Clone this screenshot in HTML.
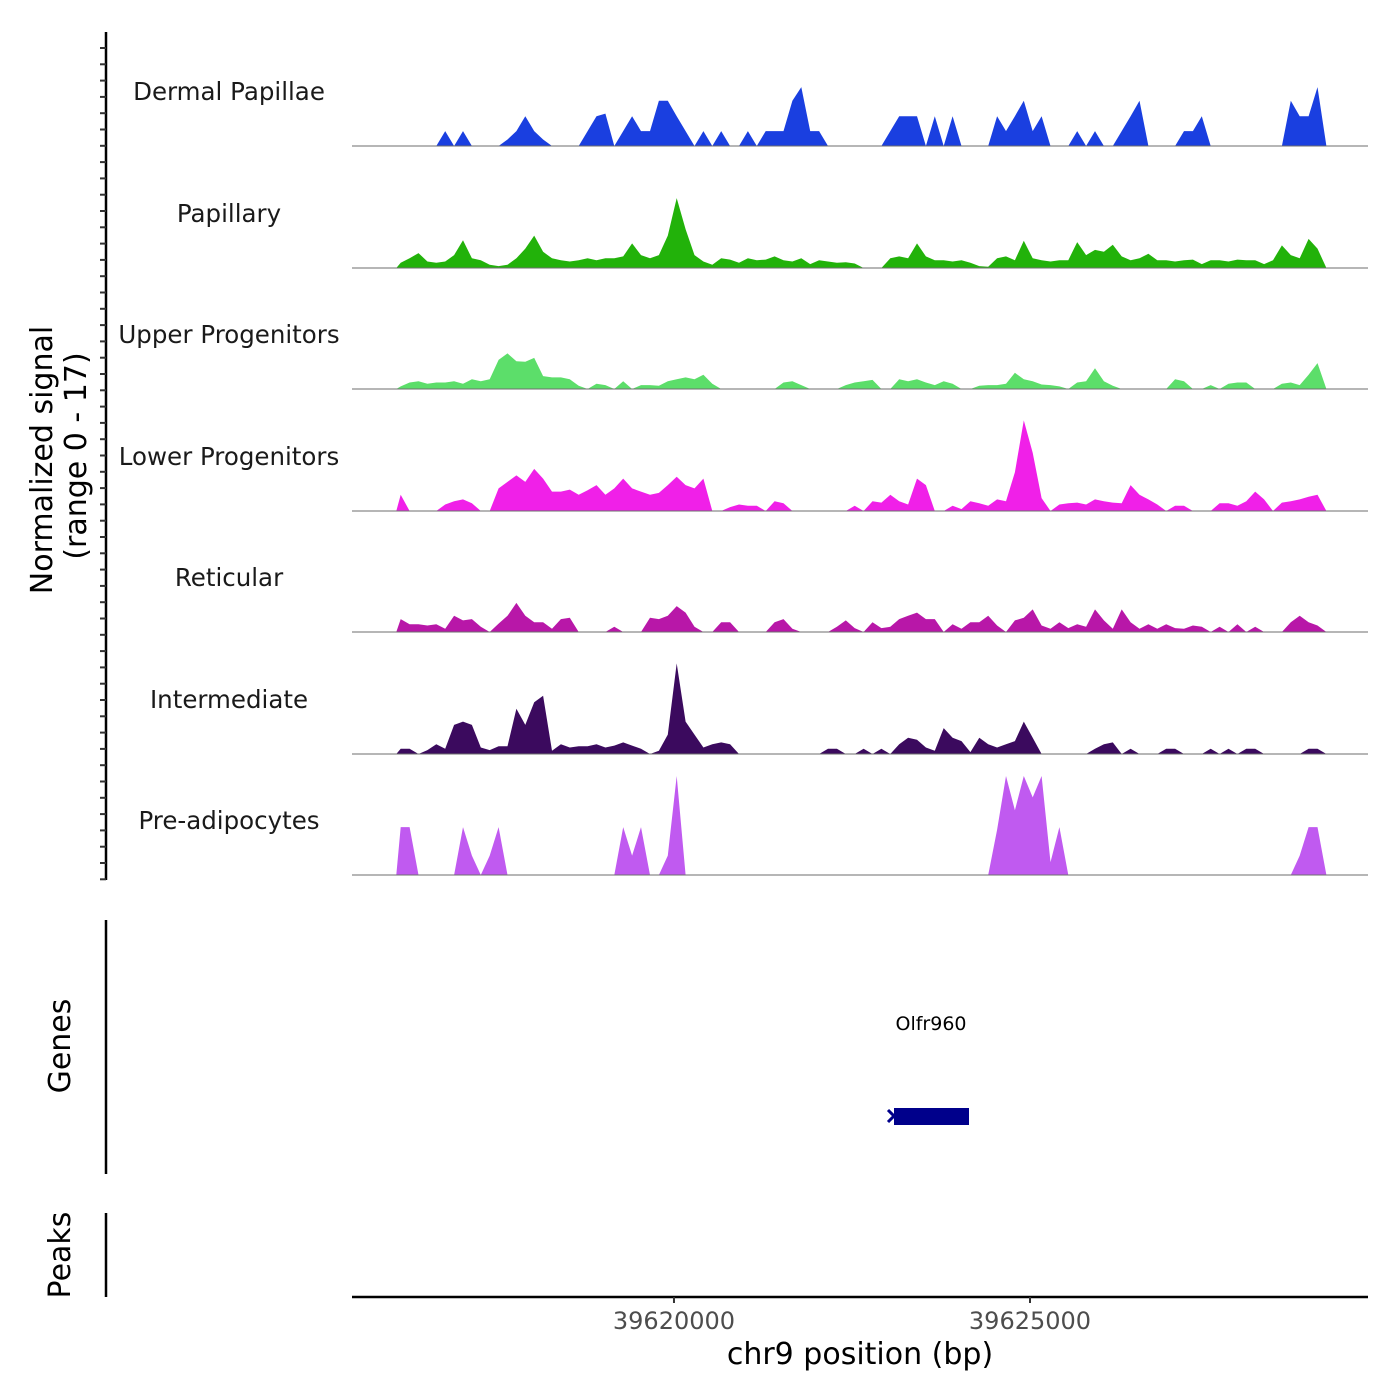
<!DOCTYPE html>
<html><head><meta charset="utf-8"><style>
html,body{margin:0;padding:0;background:#fff;}
svg{display:block;font-family:"DejaVu Sans","Liberation Sans",sans-serif;}
</style></head><body>
<svg id="chart" width="1400" height="1400" viewBox="0 0 1400 1400" xmlns="http://www.w3.org/2000/svg"></svg>
<script>
const trackNames = ["Dermal Papillae","Papillary","Upper Progenitors","Lower Progenitors","Reticular","Intermediate","Pre-adipocytes"];
const trackColors = ["#1a3fe0","#22b20a","#5cde6a","#f020e8","#b817a8","#3b0a5e","#c05af0"];
const binStart = 39616100;
const binSize = 125;
const xTicks = [39620000, 39625000];
const xTickLabels = ["39620000","39625000"];
const dermal = [0,0,0,0,0,2.3,0,2.3,0,0,0,0,1,2.3,4.6,2.3,1,0,0,0,0,2.3,4.6,5,0,2.3,4.6,2.3,2.3,7,7,4.6,2.3,0,2.3,0,2.3,0,0,2.3,0,2.3,2.3,2.3,7,9.1,2.3,2.3,0,0,0,0,0,0,0,2.3,4.6,4.6,4.6,0,4.6,0,4.6,0,0,0,0,4.6,2.3,4.6,7,2.3,4.6,0,0,0,2.3,0,2.3,0,0,2.3,4.6,7,0,0,0,0,2.3,2.3,4.6,0,0,0,0,0,0,0,0,0,7,4.6,4.6,9.1,0];
const papillary = [0.8,1.5,2.3,1,0.8,1,2,4.3,1.5,1.2,0.5,0.3,0.5,1.5,3,5,2.5,1.5,1.2,1,1.2,1.5,1.2,1.5,1.5,1.8,3.8,2,1.5,2,5,10.8,6,2,1,0.5,1.5,1.3,0.8,1.5,1.2,1.3,1.8,1.2,1,1.5,0.6,1.2,1,0.8,0.9,0.7,0,0,0,1.5,1.8,1.5,3.8,1.8,1.2,1.2,1,1.2,0.8,0.3,0.2,1.5,1.8,1.2,4.2,1.5,1.2,1,1.2,1.2,4,2,2.8,2.5,3.6,1.8,1.2,1.5,2.2,1.2,1.2,1,1.2,1.3,0.6,1.2,1.2,1,1.3,1.2,1.2,0.6,1.2,3.5,2,1.5,4.5,3,0];
const upper = [0.4,1,1.2,0.8,1,1,1.2,0.8,1.5,1.2,1.5,4.5,5.5,4.3,4.2,4.8,2,1.8,1.8,1.5,0.5,0,0.8,0.6,0,1.2,0,0.6,0.6,0.5,1.2,1.5,1.8,1.5,2.2,0.8,0,0,0,0,0,0,0,1,1.2,0.6,0,0,0,0,0.6,1,1.2,1.4,0,0,1.5,1.2,1.5,1,0.6,1.2,0.8,0,0,0.5,0.6,0.6,0.8,2.5,1.5,1.2,0.7,0.6,0.4,0,1,1.2,3.2,1.2,0.5,0,0,0,0,0,0,1.5,1.2,0,0,0.6,0,0.8,1,1,0,0,0,0.8,1,0.6,2.2,4,0];
const lower = [2.5,0,0,0,0,1,1.5,1.8,1.2,0,0,3.5,4.5,5.5,4.5,6.5,5,3,3,3.3,2.5,3.2,4,2.5,3.5,5,3.5,3,2.5,2.8,4,5.3,4,3.5,5,0,0,0.6,1,0.8,0.8,0,1.5,1.2,0,0,0,0,0,0,0,0.8,0,1.5,1.3,2.5,1.5,1,5,4,0,0,0.8,0.3,1.5,1.2,0.8,1.8,1.5,6,14,9,2,0,1,1.2,1.3,1,1.8,1.5,1.3,1.2,4,2.5,1.8,1,0,0.8,0.8,0,0,0,1.2,1.2,0.8,1.5,3,1.8,0,1.3,1.5,1.8,2.2,2.5,0];
const reticular = [2,1.2,1.2,1,1.2,0.5,2.5,1.8,2,0.8,0,1.3,2.5,4.5,2.5,1.5,1.5,0.5,2,2.2,0,0,0,0,0.8,0,0,0,2.2,2,2.5,4,3,0.8,0,0,1.5,1.5,0,0,0,0,1.5,2,0.5,0,0,0,0,0.8,1.8,0.6,0,1.5,0.6,0.8,2,2.5,3,2,2,0,1.2,0.5,1.5,1.5,2.5,1,0,1.8,2.2,3.5,1,0.5,1.5,0.6,1.2,0.8,3.5,1.8,0.5,3.5,1.5,0.5,1.2,0.5,1.2,0.6,0.5,1,0.8,0,0.8,0,1.2,0,0.8,0,0,0,1.5,2.5,1.5,1,0];
const intermediate = [0.8,0.8,0,0.6,1.5,0.8,4.5,5,4.5,1,0.6,1.2,1.2,7,4.5,8,9,0.5,1.5,1,1.2,1.2,1.5,1,1.3,1.8,1.3,0.8,0,0.5,3,14,5,3,1,1.5,1.8,1.5,0,0,0,0,0,0,0,0,0,0,0.8,0.8,0,0,0.8,0,0.8,0,1.5,2.5,2.2,1,0.5,4,2.5,2,0.3,2.5,1.5,1,1.5,2,5,2.5,0,0,0,0,0,0,0.8,1.5,1.8,0,0.8,0,0,0,0.8,0.8,0,0,0,0.8,0,0.8,0,0.8,0.8,0,0,0,0,0,0.8,0.8,0];
const preadipocyte = [7.4,7.4,0,0,0,0,0,7.4,3,0,3,7.4,0,0,0,0,0,0,0,0,0,0,0,0,0,7.4,3,7.4,0,0,3,15.3,0,0,0,0,0,0,0,0,0,0,0,0,0,0,0,0,0,0,0,0,0,0,0,0,0,0,0,0,0,0,0,0,0,0,0,7,15.3,10,15.3,12,15.3,2,7.4,0,0,0,0,0,0,0,0,0,0,0,0,0,0,0,0,0,0,0,0,0,0,0,0,0,0,3,7.4,7.4,0];
const series = [dermal,papillary,upper,lower,reticular,intermediate,preadipocyte];

const NS="http://www.w3.org/2000/svg";
const svg=document.getElementById('chart');
const X0=352,X1=1368,BP0=39615478,BP1=39629747;
function xScale(bp){return X0+(bp-BP0)/(BP1-BP0)*(X1-X0);}
const baselines=[146,268,389,511,632,754,875];
const PXPERUNIT=110/17;
function yScale(v,t){return baselines[t]-v*PXPERUNIT;}
function mk(tag,attrs){const e=document.createElementNS(NS,tag);for(const k in attrs)e.setAttribute(k,attrs[k]);svg.appendChild(e);return e;}

series.forEach((vals,t)=>{
  const pts=[];
  pts.push(xScale(binStart)+','+baselines[t]);
  vals.forEach((v,i)=>{
    const xc=xScale(binStart+binSize*(i+0.5));
    pts.push(xc.toFixed(1)+','+yScale(v,t).toFixed(1));
  });
  pts.push(xScale(binStart+binSize*vals.length)+','+baselines[t]);
  const p=mk('polygon',{points:pts.join(' '),fill:trackColors[t]});
  
  
  const bl=mk('line',{x1:X0,x2:X1,y1:baselines[t],y2:baselines[t],stroke:'#6e6e6e','stroke-width':1});
  
  
  const lab=mk('text',{x:229,y:baselines[t]-46,'text-anchor':'middle','font-size':24.5,fill:'#1a1a1a'});
  lab.textContent=trackNames[t];
  
  
});

const ax=mk('line',{x1:106,x2:106,y1:32,y2:880,stroke:'#000','stroke-width':2.5});


for(let y=48;y<=880;y+=16.3){
  const tk=mk('line',{x1:100,x2:106,y1:y,y2:y,stroke:'#333','stroke-width':2});
  
  
}
const yt=mk('text',{transform:'translate(52,460) rotate(-90)','text-anchor':'middle','font-size':30,fill:'#000'});
yt.textContent='Normalized signal';


const yt2=mk('text',{transform:'translate(86,456) rotate(-90)','text-anchor':'middle','font-size':30,fill:'#000'});
yt2.textContent='(range 0 - 17)';



const ga=mk('line',{x1:106,x2:106,y1:920,y2:1174,stroke:'#000','stroke-width':2.5});


const gt=mk('text',{transform:'translate(70,1046) rotate(-90)','text-anchor':'middle','font-size':30,fill:'#000'});
gt.textContent='Genes';


const gl=mk('text',{x:931,y:1030,'text-anchor':'middle','font-size':19,fill:'#000'});
gl.textContent='Olfr960';


const gb=mk('rect',{x:894,y:1108,width:75,height:17,fill:'#00008b'});


const ga2=mk('polyline',{points:'888,1110 894,1116 888,1122',fill:'none',stroke:'#00008b','stroke-width':3});



const pa=mk('line',{x1:106,x2:106,y1:1213,y2:1297,stroke:'#000','stroke-width':2.5});


const pt=mk('text',{transform:'translate(70,1255) rotate(-90)','text-anchor':'middle','font-size':30,fill:'#000'});
pt.textContent='Peaks';



const xa=mk('line',{x1:352,x2:1368,y1:1297,y2:1297,stroke:'#000','stroke-width':2.5});


xTicks.forEach((bp,i)=>{
  const x=xScale(bp);
  const tk=mk('line',{x1:x,x2:x,y1:1297,y2:1303,stroke:'#333','stroke-width':2});
  
  
  const tl=mk('text',{x:x,y:1329,'text-anchor':'middle','font-size':24,fill:'#4d4d4d'});
  tl.textContent=xTickLabels[i];
  
  
});
const xt=mk('text',{x:860,y:1364,'text-anchor':'middle','font-size':30,fill:'#000'});
xt.textContent='chr9 position (bp)';


</script>
</body></html>
